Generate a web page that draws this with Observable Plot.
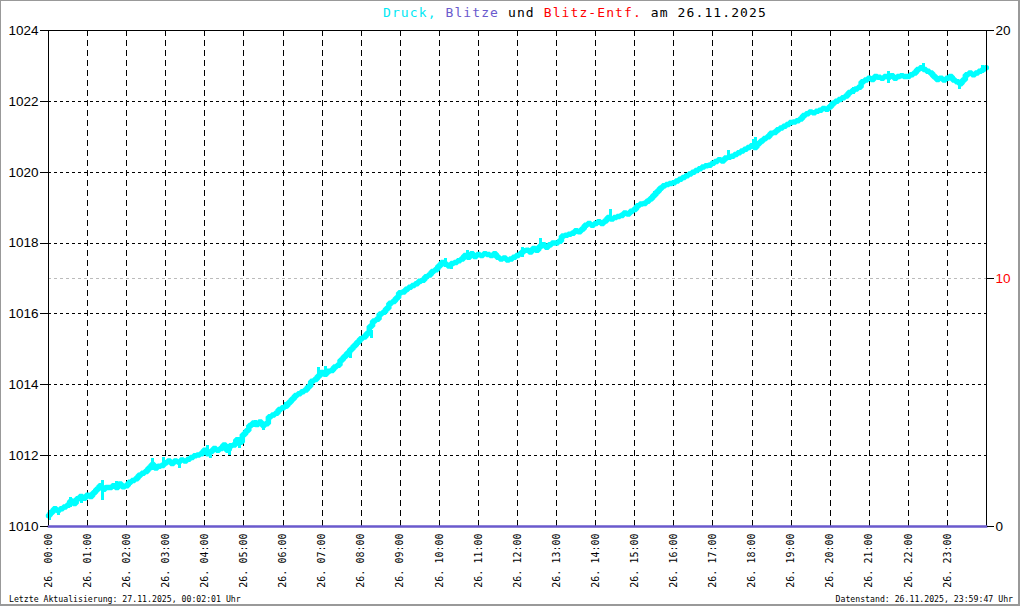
<!DOCTYPE html>
<html><head><meta charset="utf-8">
<script src="https://cdn.jsdelivr.net/npm/d3@7"></script>
<script src="https://cdn.jsdelivr.net/npm/@observablehq/plot@0.6"></script>
<style>
html,body{margin:0;padding:0;background:#fff;}
#page{position:relative;width:1020px;height:606px;overflow:hidden;background:#fff;}
#border{position:absolute;left:0;top:0;width:1020px;height:606px;box-sizing:border-box;border-style:solid;border-color:#999;border-width:1px 2px 2px 1px;pointer-events:none;}
#title{position:absolute;left:383px;top:2px;line-height:22px;font-family:"DejaVu Sans Mono",monospace;font-size:13px;letter-spacing:1.1px;white-space:pre;}
#chart{position:absolute;left:0;top:22px;}
.foot{position:absolute;top:594px;line-height:10px;font-family:"DejaVu Sans Mono",monospace;font-size:8.2px;white-space:pre;color:#000;}
</style></head><body>
<div id="page">
<div id="title"></div>
<div id="chart"></div>
<div class="foot" id="footL" style="left:9px"></div>
<div class="foot" id="footR" style="right:7px"></div>
<div id="border"></div>
</div>
<script>
// ---- data ----
const titleParts = [
  ["Druck,", "#00e8f4"],
  [" Blitze", "#6a5acd"],
  [" und ", "#000000"],
  ["Blitz-Entf.", "#ff0000"],
  [" am 26.11.2025", "#000000"]
];
const footerLeft = "Letzte Aktualisierung: 27.11.2025, 00:02:01 Uhr";
const footerRight = "Datenstand: 26.11.2025, 23:59:47 Uhr";
const dayLabel = "26.";
const hourTicks = [0,1,2,3,4,5,6,7,8,9,10,11,12,13,14,15,16,17,18,19,20,21,22,23];
const leftTicks = [1010,1012,1014,1016,1018,1020,1022,1024];
const rightTicks = [0,10,20];
const rightRedTick = 10;
const leftDomain = [1010,1024];
const rightDomain = [0,20];
const stepMinutes = 5;
// Luftdruck (hPa), 5-Minuten-Werte 00:00 ... 24:00
const pressure = [
  1010.30,1010.40,1010.50,1010.45,1010.50,1010.55,1010.60,1010.72,1010.65,1010.78,1010.85,1010.80,
  1010.88,1010.85,1010.95,1011.05,1011.15,1011.05,1011.10,1011.10,1011.15,1011.10,1011.20,1011.12,
  1011.15,1011.25,1011.30,1011.35,1011.45,1011.50,1011.55,1011.65,1011.75,1011.65,1011.70,1011.72,
  1011.80,1011.85,1011.78,1011.85,1011.82,1011.88,1011.85,1011.90,1011.95,1012.00,1012.02,1012.05,
  1012.15,1012.05,1012.12,1012.20,1012.15,1012.20,1012.30,1012.15,1012.28,1012.30,1012.45,1012.38,
  1012.60,1012.70,1012.85,1012.92,1012.88,1012.95,1012.85,1012.90,1013.10,1013.15,1013.20,1013.30,
  1013.35,1013.40,1013.50,1013.60,1013.70,1013.75,1013.80,1013.85,1013.95,1014.10,1014.15,1014.25,
  1014.35,1014.30,1014.38,1014.40,1014.50,1014.55,1014.70,1014.80,1014.90,1015.00,1015.10,1015.20,
  1015.30,1015.35,1015.45,1015.65,1015.80,1015.85,1016.00,1016.05,1016.15,1016.30,1016.35,1016.45,
  1016.60,1016.62,1016.70,1016.75,1016.80,1016.85,1016.92,1016.95,1017.05,1017.10,1017.20,1017.25,
  1017.35,1017.45,1017.40,1017.35,1017.42,1017.45,1017.50,1017.55,1017.65,1017.60,1017.70,1017.62,
  1017.68,1017.65,1017.70,1017.68,1017.65,1017.70,1017.60,1017.55,1017.58,1017.52,1017.55,1017.60,
  1017.65,1017.70,1017.78,1017.80,1017.75,1017.85,1017.80,1017.90,1017.95,1017.88,1017.95,1018.00,
  1018.00,1018.05,1018.20,1018.22,1018.25,1018.28,1018.35,1018.32,1018.40,1018.50,1018.55,1018.50,
  1018.55,1018.60,1018.55,1018.62,1018.72,1018.68,1018.72,1018.75,1018.78,1018.85,1018.82,1018.90,
  1018.95,1019.05,1019.10,1019.12,1019.18,1019.25,1019.35,1019.45,1019.55,1019.62,1019.65,1019.68,
  1019.70,1019.75,1019.80,1019.85,1019.90,1019.95,1020.00,1020.05,1020.10,1020.15,1020.18,1020.20,
  1020.25,1020.30,1020.35,1020.32,1020.40,1020.42,1020.45,1020.50,1020.55,1020.60,1020.65,1020.70,
  1020.75,1020.70,1020.80,1020.88,1020.95,1021.00,1021.10,1021.12,1021.20,1021.25,1021.30,1021.35,
  1021.40,1021.42,1021.45,1021.50,1021.60,1021.65,1021.70,1021.68,1021.72,1021.75,1021.80,1021.78,
  1021.85,1021.95,1022.00,1022.05,1022.10,1022.15,1022.25,1022.30,1022.35,1022.40,1022.55,1022.60,
  1022.65,1022.62,1022.70,1022.68,1022.65,1022.70,1022.68,1022.72,1022.65,1022.70,1022.72,1022.70,
  1022.70,1022.75,1022.80,1022.90,1022.95,1022.90,1022.85,1022.80,1022.70,1022.62,1022.65,1022.60,
  1022.65,1022.70,1022.60,1022.55,1022.50,1022.60,1022.75,1022.80,1022.75,1022.80,1022.85,1022.90,
  1022.95
];
// Kurzzeitige Ausschläge (Stunde, min hPa, max hPa), aus dem Bild geschätzt
const spikeHour = [0.03,0.25,0.56,0.85,1.37,1.74,2.65,2.95,3.34,4.08,4.15,4.53,4.62,4.89,5.30,5.50,6.07,
  6.92,7.09,7.56,7.73,8.26,10.16,10.30,10.71,12.12,12.60,14.38,15.50,17.40,18.05,18.09,20.60,21.50,22.40,23.32,23.90];
const spikeLow  = [1010.18,1010.32,1010.55,1010.65,1010.74,1011.05,1011.62,1011.80,1011.63,1012.05,1011.92,1012.15,1012.00,1012.20,1012.85,1012.71,1013.30,
  1014.20,1014.30,1014.65,1014.73,1015.30,1017.30,1017.25,1017.55,1017.60,1017.90,1018.60,1019.30,1020.40,1020.65,1020.70,1022.20,1022.50,1022.85,1022.33,1022.80];
const spikeHigh = [1010.46,1010.50,1010.83,1010.90,1011.30,1011.26,1011.92,1011.96,1011.85,1012.29,1012.10,1012.34,1012.25,1012.40,1013.00,1012.90,1013.51,
  1014.50,1014.52,1014.83,1014.90,1015.53,1017.56,1017.45,1017.79,1017.88,1018.14,1018.94,1019.45,1020.60,1020.92,1020.97,1022.40,1022.85,1023.06,1022.55,1023.02];
// Blitze (Anzahl) – am ganzen Tag 0
const blitzeHours = [0, 24];
const blitzeCount = [0, 0];

// ---- helpers ----
const toLeft = v => leftDomain[0] + (v - rightDomain[0]) * (leftDomain[1]-leftDomain[0]) / (rightDomain[1]-rightDomain[0]);
const pressData = pressure.map((p, i) => ({h: Math.min(i * stepMinutes / 60, 23.996), p}));
const spikeData = spikeHour.map((h, i) => ({h, lo: spikeLow[i], hi: spikeHigh[i]}));
const blitzeData = blitzeHours.map((h, i) => ({h, v: blitzeCount[i]}));
const gridLeft = leftTicks.slice(1, -1);
const gridHours = hourTicks.slice(1);
const pad2 = n => String(n).padStart(2, "0");

// title + footer
const titleEl = document.getElementById("title");
for (const [t, c] of titleParts) {
  const s = document.createElement("span");
  s.textContent = t; s.style.color = c;
  titleEl.appendChild(s);
}
document.getElementById("footL").textContent = footerLeft;
document.getElementById("footR").textContent = footerRight;

const sansFont = '"Liberation Sans", Arial, sans-serif';
const monoFont = '"DejaVu Sans Mono", monospace';

const chart = Plot.plot({
  width: 1020, height: 568,
  marginLeft: 48, marginRight: 34, marginTop: 8, marginBottom: 64,
  style: {fontFamily: monoFont, fontSize: "10px", color: "#000", background: "transparent", overflow: "visible"},
  x: {domain: [0, 24], axis: null, label: null},
  y: {domain: leftDomain, axis: null, label: null},
  marks: [
    Plot.ruleY(gridLeft, {stroke: "#000", strokeDasharray: "3,3", strokeWidth: 1, shapeRendering: "crispEdges"}),
    Plot.ruleX(gridHours, {stroke: "#000", strokeDasharray: "6,4", strokeWidth: 1, shapeRendering: "crispEdges"}),
    Plot.ruleY([toLeft(rightRedTick)], {stroke: "#bbbbbb", strokeDasharray: "3,3", strokeWidth: 1, shapeRendering: "crispEdges"}),
    Plot.lineY(pressData, {x: "h", y: "p", stroke: "#00ffff", strokeWidth: 5.5, strokeLinejoin: "miter", curve: "step"}),
    Plot.ruleX(spikeData, {x: "h", y1: "lo", y2: "hi", stroke: "#00ffff", strokeWidth: 3, shapeRendering: "crispEdges"}),
    Plot.frame({stroke: "#000", shapeRendering: "crispEdges"}),
    Plot.lineY(blitzeData, {x: "h", y: d => toLeft(d.v), stroke: "#6a5acd", strokeWidth: 2.5}),
    Plot.axisY(leftTicks, {anchor: "left", label: null, tickSize: 8, tickPadding: 2, tickFormat: d => String(d),
      fontFamily: sansFont, fontSize: 13.5, stroke: "#000", shapeRendering: "crispEdges"}),
    Plot.axisY(rightTicks.map(toLeft), {anchor: "right", label: null, tickSize: 7, text: null, stroke: "#000", shapeRendering: "crispEdges"}),
    Plot.text(rightTicks.filter(d => d !== rightRedTick), {y: d => toLeft(d), text: d => String(d), frameAnchor: "right",
      dx: 9, textAnchor: "start", fill: "#000", fontFamily: sansFont, fontSize: 13.5}),
    Plot.text(rightTicks.filter(d => d === rightRedTick), {y: d => toLeft(d), text: d => String(d), frameAnchor: "right",
      dx: 9, textAnchor: "start", fill: "#ff0000", fontFamily: sansFont, fontSize: 13.5}),
    Plot.axisX(hourTicks, {anchor: "bottom", label: null, tickSize: 0, tickPadding: 7, tickRotate: -90,
      tickFormat: h => `${dayLabel} ${pad2(h)}:00`, fontFamily: monoFont, fontSize: 10})
  ]
});
document.getElementById("chart").appendChild(chart);
</script>
</body></html>
